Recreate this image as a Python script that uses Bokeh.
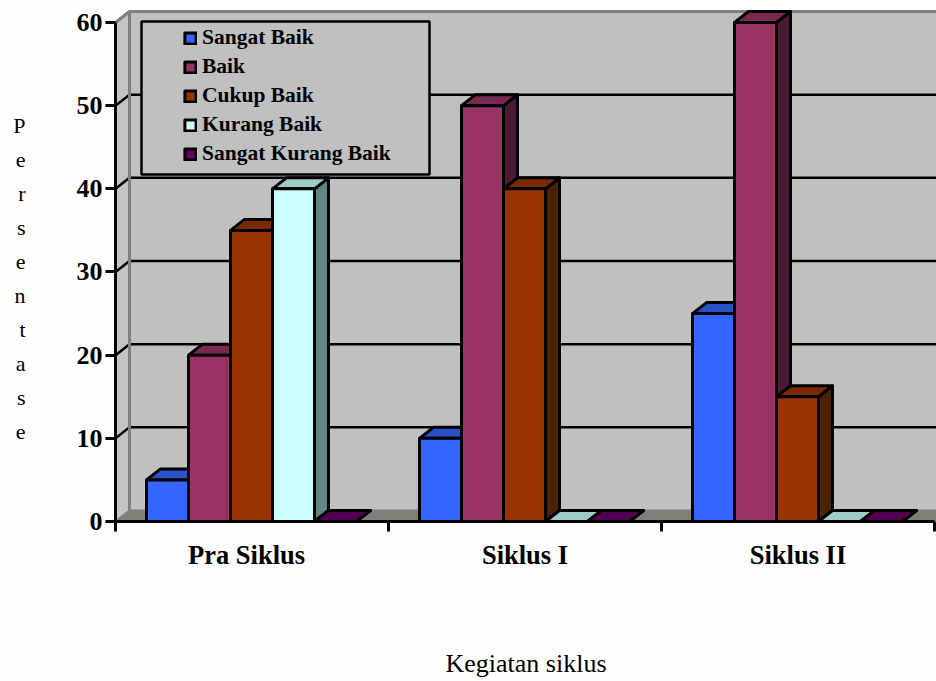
from bokeh.plotting import figure
from bokeh.models import FixedTicker, Legend, LegendItem, Range1d, ColumnDataSource
from bokeh.embed import file_html
from bokeh.resources import INLINE

categories = ["Pra Siklus", "Siklus I", "Siklus II"]
series_names = ["Sangat Baik", "Baik", "Cukup Baik", "Kurang Baik", "Sangat Kurang Baik"]
sangat_baik = [5, 10, 25]
baik = [20, 50, 60]
cukup_baik = [35, 40, 15]
kurang_baik = [40, 0, 0]
sangat_kurang_baik = [0, 0, 0]
y_ticks = [0, 10, 20, 30, 40, 50, 60]
series_values = [sangat_baik, baik, cukup_baik, kurang_baik, sangat_kurang_baik]
front_colors = ["#3366FF", "#993366", "#993300", "#CCFFFF", "#660066"]
top_colors = ["#2A52C8", "#7A2A52", "#7A2A00", "#A0CCC6", "#520052"]
side_colors = ["#1F3D99", "#4D1A33", "#4D2200", "#668580", "#330033"]
label_positions = [0.48, 1.5, 2.5]

# layout (pixels -> data scale)
PX_X = 273.0
PX_Y = 8.317
DX = 14 / PX_X
DY = 11 / PX_Y
BAR_W = 42 / PX_X
GROUP_LEFT = 31 / PX_X

FONT = "Liberation Serif"
XMAX = 821 / PX_X
p = figure(width=936, height=681, output_backend="svg", toolbar_location=None,
           x_range=Range1d(0, XMAX), y_range=Range1d(0, 521 / PX_Y),
           min_border_left=115, min_border_right=0, min_border_top=0, min_border_bottom=160,
           outline_line_color=None, background_fill_color=None, border_fill_color="#FEFEFC")
p.xgrid.visible = False
p.ygrid.visible = False

YTOP = max(y_ticks) + DY

# walls and floor
p.patch([0, DX, DX, 0], [0, DY, YTOP, max(y_ticks)], fill_color="#C4C4C0", line_color=None)
p.quad(left=DX, right=XMAX, bottom=DY, top=YTOP, fill_color="#C0C0C0", line_color=None)
p.patch([0, DX, XMAX, XMAX], [0, DY, DY, 0], fill_color="#808078", line_color=None)

# grid on walls
for t in y_ticks[1:]:
    p.line([DX, XMAX], [t + DY, t + DY], line_color="black", line_width=2.5)
    p.line([0, DX], [t, t + DY], line_color="black", line_width=2.5)
p.line([0, DX, DX], [max(y_ticks), YTOP, DY], line_color="#808080", line_width=3)
p.line([DX, XMAX], [YTOP, YTOP], line_color="#808080", line_width=3)
p.line([0, DX, XMAX], [0, DY, DY], line_color="#808080", line_width=2)

# legend box
p.quad(left=26 / PX_X, right=314 / PX_X, bottom=(521 - 174) / PX_Y, top=(521 - 21) / PX_Y,
       fill_color="#C0C0C0", line_color="black", line_width=2.5)

items = []
for s, (name, vals) in enumerate(zip(series_names, series_values)):
    left = [c + GROUP_LEFT + s * BAR_W for c in range(3)]
    right = [l + BAR_W for l in left]
    top_xs = [[l, l + DX, r + DX, r] for l, r in zip(left, right)]
    top_ys = [[v, v + DY, v + DY, v] for v in vals]
    side_xs = [[r, r + DX, r + DX, r] for r in right]
    side_ys = [[0, DY, v + DY, v] for v in vals]
    kw = dict(line_color="black", line_width=3, line_join="round")
    p.patches(side_xs, side_ys, fill_color=side_colors[s], **kw)
    p.patches(top_xs, top_ys, fill_color=top_colors[s], **kw)
    src = ColumnDataSource(dict(left=left, right=right, top=vals, bottom=[0] * 3))
    r = p.quad(left="left", right="right", top="top", bottom="bottom", source=src,
               fill_color=front_colors[s], **kw)
    items.append(LegendItem(label=name, renderers=[r]))

legend = Legend(items=items, location=(68, 355), padding=0, margin=0,
                spacing=4, glyph_width=14, glyph_height=14, label_standoff=5,
                background_fill_alpha=0, border_line_color=None,
                label_text_font=FONT, label_text_font_style="bold",
                label_text_font_size="21.5px", label_text_color="black", label_height=20)
p.add_layout(legend, "center")

# axes
ax = p.yaxis[0]
ax.ticker = FixedTicker(ticks=y_ticks)
ax.bounds = (0, max(y_ticks))
ax.axis_line_color = "black"
ax.axis_line_width = 3
ax.major_tick_line_color = "black"
ax.major_tick_line_width = 3
ax.major_tick_out = 10
ax.major_tick_in = 0
ax.minor_tick_line_color = None
ax.major_label_text_font = FONT
ax.major_label_text_font_style = "bold"
ax.major_label_text_font_size = "26px"
ax.major_label_text_color = "black"
ax.major_label_standoff = 3
ax.axis_label = "\n" + "\n".join("Persentase")
ax.axis_label_orientation = "horizontal"
ax.axis_label_text_font = FONT
ax.axis_label_text_font_style = "normal"
ax.axis_label_text_font_size = "22px"
ax.axis_label_text_color = "black"
ax.axis_label_text_line_height = 1.36
ax.axis_label_standoff = 48

ax = p.xaxis[0]
ax.ticker = FixedTicker(ticks=label_positions, minor_ticks=[0, 1, 2, 3])
ax.major_label_overrides = {t: n for t, n in zip(label_positions, categories)}
ax.bounds = (0, 3)
ax.axis_line_color = "black"
ax.axis_line_width = 3
ax.major_tick_line_color = None
ax.minor_tick_line_color = "black"
ax.minor_tick_line_width = 3
ax.minor_tick_out = 10
ax.minor_tick_in = 0
ax.major_label_text_font = FONT
ax.major_label_text_font_style = "bold"
ax.major_label_text_font_size = "26.5px"
ax.major_label_text_color = "black"
ax.major_label_standoff = 8
ax.axis_label = "Kegiatan siklus"
ax.axis_label_text_font = FONT
ax.axis_label_text_font_style = "normal"
ax.axis_label_text_font_size = "26px"
ax.axis_label_text_color = "black"
ax.axis_label_standoff = 76

open("out.html", "w").write(file_html(p, INLINE))
